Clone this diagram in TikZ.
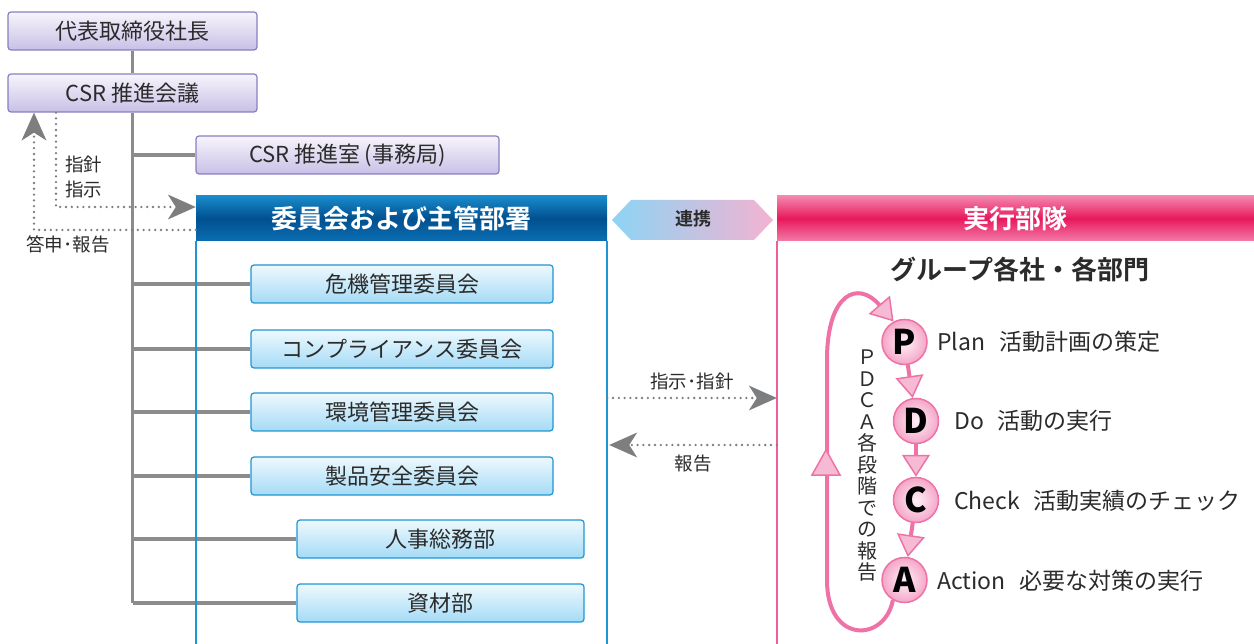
\documentclass[tikz,border=0pt]{standalone}
\usepackage{fontspec}
\setmainfont{Noto Sans CJK JP}[BoldFont={* Bold}]
\newfontfamily\heavyfont{Noto Sans CJK JP Black}
\usetikzlibrary{arrows.meta}
\definecolor{txt}{HTML}{2B2B2B}
\definecolor{gline}{HTML}{8C8C8C}
\definecolor{garrow}{HTML}{7D7E80}
\definecolor{pubord}{HTML}{8A7EC2}
\definecolor{putop}{HTML}{F7F5FC}
\definecolor{pubot}{HTML}{C8C0E6}
\definecolor{blbord}{HTML}{1E96D4}
\definecolor{bltop}{HTML}{EFF9FE}
\definecolor{blbot}{HTML}{A4DBF6}
\definecolor{hbone}{HTML}{1A8BCB}
\definecolor{hbtwo}{HTML}{00508F}
\definecolor{hbthree}{HTML}{0C6EB3}
\definecolor{pkone}{HTML}{F387AE}
\definecolor{pktwo}{HTML}{E8185C}
\definecolor{pkthree}{HTML}{F27BA7}
\definecolor{pkline}{HTML}{EE5F98}
\definecolor{loopc}{HTML}{EE72A5}
\definecolor{tri}{HTML}{F7BAD4}
\definecolor{cin}{HTML}{FFF2F8}
\definecolor{cout}{HTML}{F4A6C8}
\definecolor{hexl}{HTML}{8DD4F4}
\definecolor{hexr}{HTML}{F3B3D1}
\tikzset{
  purplebox/.style={draw=pubord, line width=1.2pt, rounded corners=3pt, top color=putop, bottom color=pubot,
    minimum height=38pt, inner sep=0pt, text=txt, font=\fontsize{22}{26}\selectfont},
  bluebox/.style={draw=blbord, line width=1.2pt, rounded corners=3pt, top color=bltop, bottom color=blbot,
    minimum height=38pt, inner sep=0pt, text=txt, font=\fontsize{22}{26}\selectfont},
  conn/.style={draw=gline, line width=3.5pt},
  dotarrow/.style={draw=garrow, line width=2.6pt, dash pattern=on 0pt off 5.8pt, line cap=round,
    -{Stealth[length=28pt,width=25pt,inset=8pt,fill=garrow,line width=0pt]}},
  lbl/.style={text=txt, inner sep=0pt, font=\fontsize{18.5}{22}\selectfont},
  pdca/.style={draw=loopc, line width=4pt, -{Triangle[length=22pt,width=28pt,fill=tri,line width=1.5pt]}},
  circ/.style={circle, minimum size=45pt, inner sep=0pt, draw=loopc, line width=1.5pt,
    inner color=cin, outer color=cout, text=black, font=\fontsize{34}{34}\heavyfont},
  pdcalbl/.style={anchor=west, inner sep=0pt, text=txt, font=\fontsize{23}{27}\selectfont},
}
\begin{document}
\begin{tikzpicture}[x=1pt,y=-1pt]
\useasboundingbox (0,0) rectangle (1254,644);
\coordinate (bot) at (0,644);
% top boxes
\node[purplebox, minimum width=249pt] (ceo) at (132.5,31) {代表取締役社長};
\node[purplebox, minimum width=249pt] (csr) at (132.5,93) {CSR 推進会議};
\node[purplebox, minimum width=303pt] (office) at (347.5,155) {CSR 推進室\hspace{4pt}(事務局)};
% committee boxes
\node[bluebox, minimum width=302pt] (k1) at (402,284) {危機管理委員会};
\node[bluebox, minimum width=302pt] (k2) at (402,349) {コンプライアンス委員会};
\node[bluebox, minimum width=302pt] (k3) at (402,412) {環境管理委員会};
\node[bluebox, minimum width=302pt] (k4) at (402,476) {製品安全委員会};
\node[bluebox, minimum width=287pt] (k5) at (440.5,539) {人事総務部};
\node[bluebox, minimum width=287pt] (k6) at (440.5,603) {資材部};
% trunk and branches
\draw[conn] (ceo.south) -- (csr.north);
\draw[conn] (csr.south) -- (csr.south |- k6);
\draw[conn] (csr.south |- office) -- (office.west);
\foreach \k in {k1,k2,k3,k4,k5,k6} \draw[conn] (csr.south |- \k) -- (\k.west);
% headers
\node[minimum width=411pt, minimum height=45pt, inner sep=0pt, top color=hbone, bottom color=hbthree, middle color=hbtwo,
  text=white, font=\fontsize{26}{30}\selectfont\bfseries] (hdrA) at (401.5,218.5) {委員会および主管部署};
\node[minimum width=477pt, minimum height=45pt, inner sep=0pt, top color=pkone, bottom color=pkthree, middle color=pktwo,
  text=white, font=\fontsize{26}{30}\selectfont\bfseries] (hdrB) at (1015.5,218.5) {実行部隊};
\draw[blbord, line width=1.6pt] (hdrA.south west) -- (hdrA.south west |- bot);
\draw[blbord, line width=1.6pt] (hdrA.south east) -- (hdrA.south east |- bot);
\draw[pkline, line width=1.6pt] (hdrB.south west) -- (hdrB.south west |- bot);
% link hexagon
\shade[left color=hexl, right color=hexr] (612,220) -- (631,200) -- (754,200) -- (773,220) -- (754,240) -- (631,240) -- cycle;
\node[text=txt, font=\fontsize{18}{20}\selectfont\bfseries] (link) at (693,219) {連携};
% left dotted arrows
\coordinate (d1) at (56,207);
\coordinate (d2) at (34,230);
\draw[dotarrow] (csr.south -| d1) |- (hdrA.west |- d1);
\draw[dotarrow] (hdrA.west |- d2) -| (csr.south -| d2);
\node[lbl, anchor=west] (l1) at (65,164) {指針};
\node[lbl, anchor=west] (l2) at (65,189) {指示};
\node[lbl] (l3) at (68,244) {答申･報告};
% middle dotted arrows
\coordinate (m1) at (0,398);
\coordinate (m2) at (0,445);
\draw[dotarrow] (hdrA.east |- m1) -- (hdrB.west |- m1);
\draw[dotarrow] (hdrB.west |- m2) -- ([xshift=2pt]hdrA.east |- m2);
\node[lbl] (l4) at (692,381) {指示･指針};
\node[lbl] (l5) at (693,464) {報告};
% right panel
\node[text=txt, inner sep=0pt, font=\fontsize{26}{30}\selectfont\bfseries] (grp) at (1020,269) {グループ各社・各部門};
\node[circ] (P) at (904.5,342) {P};
\node[circ] (D) at (916,421) {D};
\node[circ] (C) at (916,500) {C};
\node[circ] (A) at (904.5,580) {A};
\draw[pdca] (P) -- (D);
\draw[pdca] (D) -- (C);
\draw[pdca] (C) -- (A);
\draw[pdca] (A.240) .. controls (885,642) and (827,645) .. (827,580) -- (827,360) .. controls (827,293) and (858,280) .. (P.118);
\filldraw[fill=tri, draw=loopc, line width=1.5pt] (812,475) -- (840,475) -- (826,450) -- cycle;
\node[text=txt, inner sep=0pt, align=center, font=\fontsize{20}{21.5}\selectfont] (vt) at (867,466)
  {Ｐ\\Ｄ\\Ｃ\\Ａ\\各\\段\\階\\で\\の\\報\\告};
\node[pdcalbl] (tP) at (937,342) {Plan\hspace{14pt}活動計画の策定};
\node[pdcalbl] (tD) at (954,421) {Do\hspace{14pt}活動の実行};
\node[pdcalbl] (tC) at (954,501) {Check\hspace{14pt}活動実績のチェック};
\node[pdcalbl] (tA) at (937,581) {Action\hspace{14pt}必要な対策の実行};
\end{tikzpicture}
\end{document}
